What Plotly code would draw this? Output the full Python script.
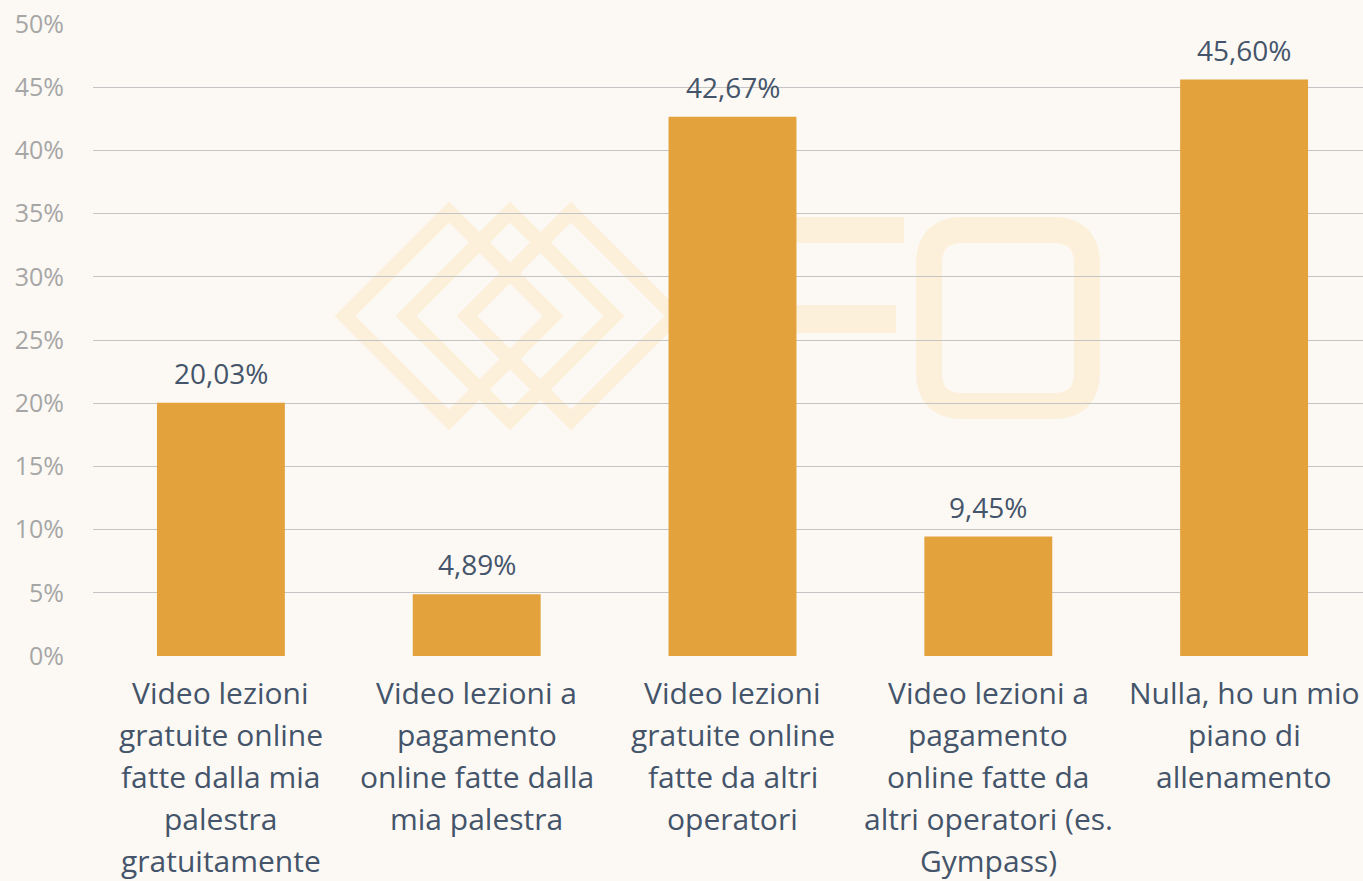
import plotly.graph_objects as go

# ---- data ----
category_lines = [
    ["Video lezioni", "gratuite online", "fatte dalla mia", "palestra", "gratuitamente"],
    ["Video lezioni a", "pagamento", "online fatte dalla", "mia palestra"],
    ["Video lezioni", "gratuite online", "fatte da altri", "operatori"],
    ["Video lezioni a", "pagamento", "online fatte da", "altri operatori (es.", "Gympass)"],
    ["Nulla, ho un mio", "piano di", "allenamento"],
]
categories = [" ".join(l) for l in category_lines]
values = [20.03, 4.89, 42.67, 9.45, 45.60]
y_ticks = [0, 5, 10, 15, 20, 25, 30, 35, 40, 45, 50]
y_tick_labels = [f"{t}%" for t in y_ticks]

BG = "#FCF9F4"
BAR = "#E3A23C"
TXT = "#44546A"
TICK = "#A6A6A6"
GRID = "#C4C4C4"
WM = "#FCF0DA"
FONT = "Open Sans"

fig = go.Figure()
fig.add_trace(go.Bar(x=categories, y=values, marker=dict(color=BAR, line=dict(width=0)),
                     hoverinfo="skip"))

# data labels
for c, v in zip(categories, values):
    fig.add_annotation(x=c, y=v, xref="x", yref="y", text=f"{v:.2f}%".replace(".", ","),
                       showarrow=False, yanchor="middle", yshift=30,
                       font=dict(family=FONT, size=28, color=TXT))

# category labels (line by line)
for c, lines in zip(categories, category_lines):
    for i, line in enumerate(lines):
        fig.add_annotation(x=c, y=0, xref="x", yref="paper", text=line, showarrow=False,
                           yanchor="middle", yshift=-(36 + 42 * i),
                           font=dict(family=FONT, size=30, color=TXT))

# ---- watermark (decorative) ----
X0, W, YB, H = 93, 1279, 656, 632
def px(x): return (x - X0) / W
def py(y): return (YB - y) / H

shapes = []
for cx in (449, 510, 571):
    cy, a = 316, 104
    path = (f"M {px(cx-a)},{py(cy)} L {px(cx)},{py(cy-a)} L {px(cx+a)},{py(cy)} "
            f"L {px(cx)},{py(cy+a)} Z")
    shapes.append(dict(type="path", path=path, xref="paper", yref="paper",
                       line=dict(color=WM, width=15), layer="below"))
for (x1, y1, x2, y2) in [(760, 217, 904, 243), (760, 305, 896, 333)]:
    shapes.append(dict(type="rect", x0=px(x1), x1=px(x2), y0=py(y2), y1=py(y1),
                       xref="paper", yref="paper", fillcolor=WM, line=dict(width=0),
                       layer="below"))
# rounded O
l, r, t, b, rad = 929, 1087, 230, 406, 34
o_path = (f"M {px(l+rad)},{py(t)} L {px(r-rad)},{py(t)} Q {px(r)},{py(t)} {px(r)},{py(t+rad)} "
          f"L {px(r)},{py(b-rad)} Q {px(r)},{py(b)} {px(r-rad)},{py(b)} "
          f"L {px(l+rad)},{py(b)} Q {px(l)},{py(b)} {px(l)},{py(b-rad)} "
          f"L {px(l)},{py(t+rad)} Q {px(l)},{py(t)} {px(l+rad)},{py(t)} Z")
shapes.append(dict(type="path", path=o_path, xref="paper", yref="paper",
                   line=dict(color=WM, width=26), layer="below"))

fig.update_layout(
    width=1372, height=881,
    margin=dict(l=93, r=0, t=24, b=225),
    paper_bgcolor=BG, plot_bgcolor=BG,
    bargap=0.5, showlegend=False,
    shapes=shapes,
    font=dict(family=FONT),
    xaxis=dict(showticklabels=False, showgrid=False, zeroline=False, showline=False,
               ticks="", fixedrange=True),
    yaxis=dict(range=[0, 50], tickvals=y_ticks, ticktext=y_tick_labels,
               showgrid=True, gridcolor=GRID, gridwidth=1, zeroline=False, showline=False,
               ticks="", ticklabelstandoff=28,
               tickfont=dict(family=FONT, size=25, color=TICK), fixedrange=True),
)

fig.write_html(
    "out.html",
    config={"displayModeBar": False},
    post_script="document.body.style.margin='0';document.body.style.overflow='hidden';"
                "document.body.style.background='" + BG + "';",
)
